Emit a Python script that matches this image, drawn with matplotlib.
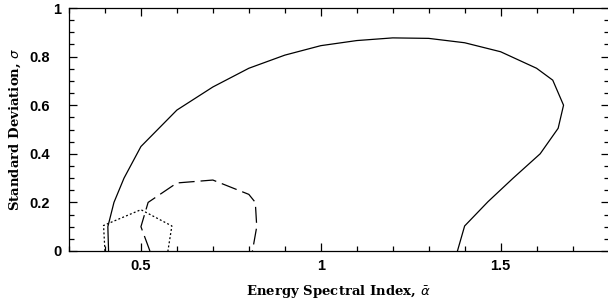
import numpy as np
import matplotlib
matplotlib.use('Agg')
import matplotlib.pyplot as plt
from matplotlib.ticker import MultipleLocator, FixedLocator
import matplotlib.transforms as mtransforms

plt.rcParams['lines.scale_dashes'] = False

# solid contour
solid_x = [0.41, 0.408, 0.425, 0.453, 0.50, 0.60, 0.70, 0.80, 0.90, 1.00, 1.10, 1.20,
           1.30, 1.40, 1.50, 1.60, 1.645, 1.675, 1.66, 1.61, 1.535, 1.465, 1.40, 1.38]
solid_y = [0.0, 0.10, 0.20, 0.30, 0.43, 0.58, 0.675, 0.752, 0.806, 0.845, 0.866, 0.877,
           0.875, 0.857, 0.82, 0.752, 0.703, 0.60, 0.505, 0.40, 0.30, 0.203, 0.103, 0.0]

# long-dashed contour
dash_x = [0.525, 0.50, 0.52, 0.60, 0.70, 0.80, 0.818, 0.822, 0.81]
dash_y = [0.0, 0.10, 0.20, 0.28, 0.292, 0.233, 0.20, 0.10, 0.0]

# dotted contour
dot_x = [0.40, 0.396, 0.50, 0.586, 0.575]
dot_y = [0.0, 0.105, 0.17, 0.103, 0.0]

fig = plt.figure(figsize=(6.08, 3.03), dpi=100)
ax = fig.add_axes([69 / 608, 1 - 251 / 303, 539.5 / 608, 243 / 303])

ax.plot(solid_x, solid_y, color='black', lw=0.9)
ax.plot(dash_x, dash_y, color='black', lw=0.9, linestyle=(0, (11.5, 4.3)))
ax.plot(dot_x, dot_y, color='black', lw=0.9, linestyle=(0, (1.4, 1.6)))

ax.set_xlim(0.3, 1.8)
ax.set_ylim(0, 1)

ax.xaxis.set_major_locator(FixedLocator([0.5, 1.0, 1.5]))
ax.xaxis.set_minor_locator(MultipleLocator(0.1))
ax.yaxis.set_major_locator(FixedLocator([0, 0.2, 0.4, 0.6, 0.8, 1.0]))
ax.yaxis.set_minor_locator(MultipleLocator(0.05))
ax.set_xticklabels(['0.5', '1', '1.5'])
ax.set_yticklabels(['0', '0.2', '0.4', '0.6', '0.8', '1'])

ax.tick_params(which='both', direction='in', top=True, right=True, width=0.9,
               labelsize=10.5)
ax.tick_params(which='major', length=6)
ax.tick_params(which='minor', length=3.5)
ax.tick_params(axis='y', pad=14)
ax.tick_params(axis='x', pad=6)
for lab in ax.get_xticklabels() + ax.get_yticklabels():
    lab.set_fontfamily('Liberation Sans')
    lab.set_fontweight('bold')
# integer labels sit further right in the original
shift = mtransforms.ScaledTranslation(12 / 100, 0, fig.dpi_scale_trans)
for lab in ax.get_yticklabels():
    if lab.get_text() in ('0', '1'):
        lab.set_transform(lab.get_transform() + shift)

for sp in ax.spines.values():
    sp.set_linewidth(0.9)

ax.set_xlabel(r'Energy Spectral Index, $\bar{\alpha}$', family='DejaVu Serif',
              fontweight='bold', fontsize=9.5, labelpad=7)
ax.set_ylabel(r'Standard Deviation, $\sigma$', family='DejaVu Serif',
              fontweight='bold', fontsize=9.5, labelpad=4)

fig.savefig('out.png', dpi=100)
